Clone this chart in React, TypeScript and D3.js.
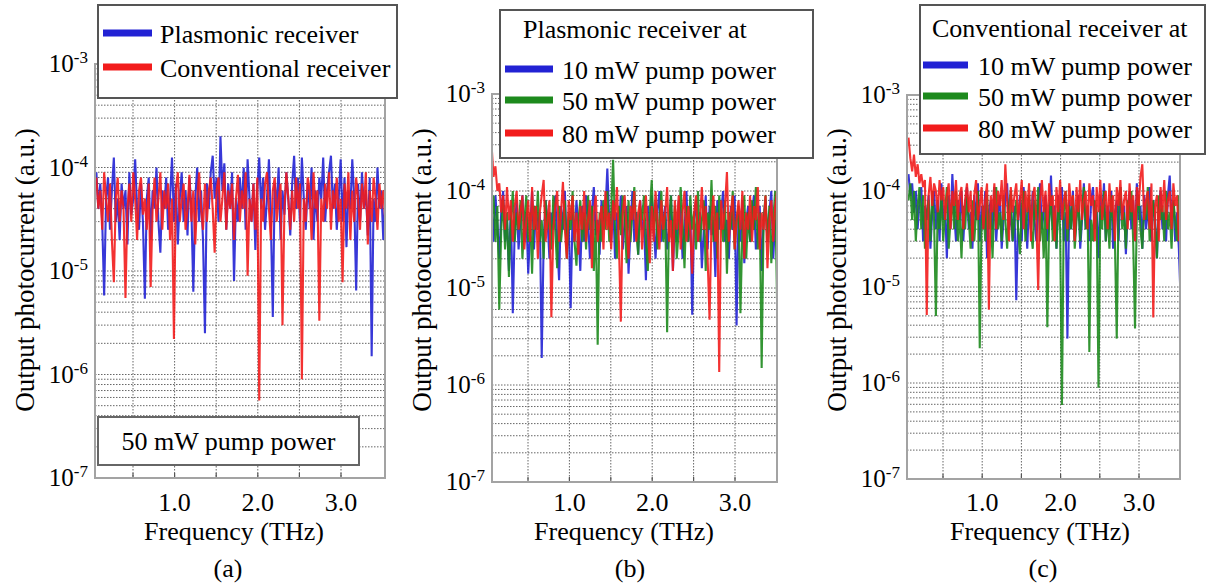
import React from 'react';
import * as d3 from 'd3';

// spectra sampled every freqStep THz starting at freqStart, values in units of 1e-5 a.u.
const freqStart = 0.06;
const freqStep = 0.0233;
const UNIT = 1e-5;

const xTickLabels = ['1.0', '2.0', '3.0'];
const xGridValues = [0.5, 1.0, 1.5, 2.0, 2.5, 3.0];
const yTickExponents = [-3, -4, -5, -6, -7];

// (a) 50 mW pump power
const plasmonicA = [
  9, 4, 7, 3, 0.58, 5, 8, 2.5, 6, 12.5, 3, 5, 2, 7, 4,
  6, 1.8, 9, 3.5, 5, 12, 4, 2.5, 7, 3, 0.54, 5, 8, 2, 6,
  4, 10, 3, 1.5, 6, 4, 8, 2.5, 5, 12.5, 3, 7, 1.8, 5, 9,
  3, 6, 2.2, 8, 4, 0.63, 5, 10, 3, 6, 2, 0.25, 7, 4, 9,
  13, 5, 8, 3, 20, 6, 11, 2.5, 7, 4, 9, 0.8, 5, 3, 8,
  4, 10, 2.5, 12, 5, 3, 7, 1.6, 6, 12.5, 4, 8, 2.5, 5, 12,
  3, 0.36, 7, 4, 10, 2, 6, 3.5, 9, 5, 2.2, 7, 13, 4, 8,
  3, 12.5, 5, 2.5, 7, 4, 10, 2, 6, 3, 8, 5, 12.5, 3, 6,
  9, 13, 4, 7, 2.5, 5, 12, 3, 8, 1.7, 6, 4, 12, 5, 0.65,
  7, 3, 9, 4, 6, 2.2, 8, 0.15, 5, 3, 10, 4, 6, 2, 5,
];
const conventionalA = [
  8, 4, 6, 2.5, 9, 5, 3, 7, 2, 0.78, 5, 8, 3, 6, 4,
  0.55, 4, 7, 3, 9, 5, 2, 6, 8, 3.5, 5, 2.5, 7, 0.7, 4,
  8, 3, 5, 9, 2.5, 6, 4, 7, 2, 5, 0.22, 6, 9, 3, 5,
  7, 2.5, 4, 8.5, 3, 6, 1.8, 5, 9, 4, 2.5, 7, 3, 6, 8,
  4, 1.5, 6, 8, 3, 5, 9, 2.5, 6, 4, 7, 2, 5, 8.5, 3,
  6, 4, 9, 0.9, 5, 3, 7, 2.5, 8, 0.056, 5, 3, 7, 9, 4,
  2, 6, 8, 3, 5, 7, 0.3, 4, 9, 5, 2.5, 6, 3, 8, 4,
  7, 0.09, 5, 3, 8, 6, 2, 9, 4, 6, 0.33, 5, 3, 7, 4,
  9, 2.5, 6, 4, 8, 3, 5, 0.78, 7, 4, 9, 2, 6, 3, 8,
  5, 2.5, 7, 4, 9, 1.8, 6, 3, 8, 5, 2.5, 7, 4, 6, 3,
];

// (b) plasmonic receiver
const plasmonic10 = [
  7, 3, 9, 4.5, 2, 6, 10, 3, 5, 1.5, 7, 0.55, 4, 8, 2.5,
  5, 9, 3, 6, 1.4, 4, 10, 2.5, 7, 4, 6, 0.19, 3, 8, 5,
  2, 6, 4, 9, 3, 1.2, 7, 4, 10, 2.5, 5, 0.62, 6, 3, 8,
  4, 1.5, 7, 3, 9, 5, 2, 6, 11, 3.5, 5, 2.2, 8, 4, 6,
  17, 5, 3, 8, 2, 6, 4, 9, 2.5, 5, 7, 1.4, 4, 10, 3,
  6, 2.2, 8, 4, 5, 1.2, 7, 3, 9, 4.5, 2, 6, 10, 3, 5,
  7, 2.5, 4, 9, 1.5, 5, 3, 8, 6, 2, 4, 10, 3, 7, 0.53,
  5, 8, 3, 6, 1.6, 4, 9, 2.5, 7, 3.5, 5, 1.3, 8, 4, 6,
  10, 3, 5, 2, 7, 4, 9, 0.41, 6, 3, 8, 1.8, 5, 7, 3,
  6, 9, 2.5, 4, 7, 1.5, 5, 8, 3, 6, 10, 2, 5, 4, 7,
];
const plasmonic50 = [
  5, 9, 3, 7, 0.6, 4, 8, 2.5, 6, 1.3, 5, 10, 3, 6, 4,
  8, 2, 5, 9, 3, 6, 1.4, 7, 4, 10, 3, 5, 2, 8, 4,
  6, 2.5, 9, 4, 1.6, 7, 3, 5, 8, 2, 6, 4, 10, 3, 1.7,
  5, 8, 3, 6, 2.5, 9, 4, 7, 1.5, 5, 0.26, 6, 3, 8, 4,
  10, 3, 6, 21, 4, 2, 7, 3.5, 9, 5, 1.8, 8, 3, 6, 11,
  4, 2.2, 7, 5, 9, 3, 1.5, 6, 13, 4, 8, 2.5, 5, 10, 3,
  6, 0.35, 5, 9, 3, 7, 2, 4, 11, 5, 1.6, 7, 3, 9, 4,
  6, 2.5, 10, 3, 5, 8, 1.5, 6, 4, 13, 3, 7, 2, 9, 5,
  3, 8, 1.4, 6, 4, 10, 2.5, 5, 7, 0.55, 4, 9, 2, 6, 3,
  8, 4, 11, 2.5, 6, 0.15, 5, 9, 3, 7, 1.8, 5, 10, 0.7, 6,
];
const plasmonic80 = [
  30, 14, 18, 10, 12, 6, 9, 4, 11, 5, 8, 3, 7, 10, 4,
  6, 9, 2.5, 5, 8, 3, 11, 4, 7, 2, 6, 9, 13, 3, 5,
  8, 0.5, 4, 7, 10, 3, 6, 12.4, 4, 2, 8, 5, 9, 3, 6,
  2.2, 7, 4, 10, 3, 5, 8, 1.6, 6, 9, 3, 5, 7, 2.5, 10,
  4, 6, 2.5, 8, 5, 11, 3, 0.45, 6, 9, 4, 2, 7, 5, 10,
  3, 6, 8, 2.5, 5, 9, 4, 1.8, 7, 3, 10, 5, 2.5, 8, 4,
  6, 11, 3, 5, 1.5, 8, 4, 9, 2.5, 6, 10, 3, 7, 4, 1.4,
  6, 9, 3, 5, 11, 4, 7, 2, 0.47, 5, 9, 3, 6, 0.136, 8,
  4, 7, 15.7, 3, 6, 9, 2.5, 5, 8, 4, 10, 2, 6, 4, 9,
  3, 7, 5, 11, 2.5, 6, 4, 9, 1.6, 5, 8, 3, 7, 10, 4,
];

// (c) conventional receiver
const conventional10 = [
  15, 9, 12, 6, 10, 4, 8, 11, 3, 7, 5, 9, 2.5, 6, 10,
  4, 8, 3, 12, 5, 7, 2, 9, 4, 15, 6, 3, 8, 5, 10,
  3, 7, 11, 4, 6, 2.5, 9, 5, 12, 3, 7, 4, 10, 2, 6,
  8, 4, 11, 3, 6, 9, 2.5, 5, 8, 12, 4, 6, 3, 7, 0.73,
  5, 9, 3, 11, 6, 2.5, 8, 4, 10, 5, 3, 7, 12, 4, 6,
  9, 3, 5, 14.5, 4, 7, 2.5, 9, 5, 11, 3, 6, 0.29, 8, 4,
  10, 3, 6, 9, 2.5, 5, 12, 4, 7, 3, 8, 11, 4, 6, 2,
  9, 5, 12, 3, 7, 4, 10, 2.5, 6, 8, 3, 11, 5, 7, 2.2,
  6, 10, 4, 8, 3, 12, 5, 7, 2.5, 9, 4, 6, 11, 3, 8,
  5, 2, 7, 10, 4, 6, 3, 9, 14.5, 5, 8, 3, 6, 2.5, 0.7,
];
const conventional50 = [
  8, 12, 5, 10, 3, 7, 11, 4, 9, 2.5, 6, 8, 3, 10, 5,
  0.5, 7, 4, 9, 3, 6, 11, 2.5, 5, 8, 4, 10, 3, 6, 2,
  7, 4, 9, 5, 2.5, 8, 3, 6, 10, 0.23, 5, 7, 3, 9, 4,
  6, 2, 8, 11, 4, 6, 3, 9, 5, 2.5, 7, 10, 3, 5, 8,
  4, 2.2, 7, 10, 3, 6, 9, 4, 2.5, 8, 5, 11, 3, 6, 2,
  7, 0.38, 5, 9, 3, 6, 2.5, 8, 4, 0.059, 6, 10, 3, 7, 4,
  9, 2.5, 5, 8, 3, 6, 11, 4, 7, 0.21, 5, 3, 8, 6, 0.089,
  7, 4, 10, 3, 6, 2.5, 9, 5, 3, 0.29, 7, 11, 4, 6, 2.5,
  8, 5, 10, 3, 0.37, 6, 9, 4, 2.5, 7, 5, 11, 3, 6, 8,
  4, 2, 9, 5, 7, 3, 10, 4, 6, 2.5, 8, 5, 3, 9, 4,
];
const conventional80 = [
  36, 22, 16, 24, 14, 19, 12, 15, 11, 13, 0.51, 9, 14, 7, 12,
  10, 6, 13, 8, 11, 5, 9, 12, 4, 10, 7, 13, 5, 9, 11,
  4, 8, 12, 6, 10, 3, 9, 13, 5, 7, 11, 4, 8, 12, 0.58,
  9, 6, 12, 4, 10, 7, 13, 5, 19, 8, 3, 11, 6, 9, 12,
  5, 8, 13, 4, 10, 6, 12, 3, 9, 11, 5, 0.93, 8, 13, 6,
  10, 4, 12, 7, 9, 3, 11, 6, 13, 5, 8, 10, 4, 12, 7,
  9, 3, 11, 6, 13, 5, 8, 10, 4, 12, 7, 9, 3, 11, 6,
  13, 5, 8, 10, 4, 12, 6, 9, 3, 11, 7, 13, 5, 8, 10,
  4, 12, 6, 9, 3, 11, 7, 14, 19, 5, 8, 10, 4, 12, 0.48,
  7, 9, 3, 11, 6, 13, 5, 8, 10, 4, 12, 7, 9, 3, 6,
];

const BLUE = '#2222d4';
const RED = '#f21c1c';
const GREEN = '#1d8a1d';
const FONT = '"Liberation Serif", "Times New Roman", serif';

type Series = { label: string; color: string; values: number[] };

type PanelSpec = {
  x05: number; x30: number; left: number; right: number; top: number; bottom: number;
  series: Series[];
  legendBox: [number, number, number, number];
  legendTitle?: { text: string; x: number; y: number };
  legendRows: number[];
  legendLineX: [number, number];
  legendTextX: number;
  note?: { text: string; box: [number, number, number, number] };
  xTitleX: number;
  caption: string;
  captionX: number;
};

const panels: PanelSpec[] = [
  {
    x05: 133, x30: 341, left: 95, right: 385, top: 64, bottom: 478,
    series: [
      { label: 'Plasmonic receiver', color: BLUE, values: plasmonicA },
      { label: 'Conventional receiver', color: RED, values: conventionalA },
    ],
    legendBox: [98, 5, 299, 93],
    legendRows: [33, 67],
    legendLineX: [103, 152],
    legendTextX: 160,
    note: { text: '50 mW pump power', box: [98, 417, 261, 48] },
    xTitleX: 234,
    caption: '(a)',
    captionX: 228,
  },
  {
    x05: 528, x30: 735, left: 492, right: 777, top: 94, bottom: 482,
    series: [
      { label: '10 mW pump power', color: BLUE, values: plasmonic10 },
      { label: '50 mW pump power', color: GREEN, values: plasmonic50 },
      { label: '80 mW pump power', color: RED, values: plasmonic80 },
    ],
    legendBox: [500, 10, 313, 148],
    legendTitle: { text: 'Plasmonic receiver at', x: 523, y: 38 },
    legendRows: [69, 100, 133],
    legendLineX: [505, 553],
    legendTextX: 562,
    xTitleX: 624,
    caption: '(b)',
    captionX: 630,
  },
  {
    x05: 943, x30: 1139, left: 907, right: 1180, top: 95, bottom: 479,
    series: [
      { label: '10 mW pump power', color: BLUE, values: conventional10 },
      { label: '50 mW pump power', color: GREEN, values: conventional50 },
      { label: '80 mW pump power', color: RED, values: conventional80 },
    ],
    legendBox: [920, 5, 285, 149],
    legendTitle: { text: 'Conventional receiver at', x: 932, y: 37 },
    legendRows: [65, 96, 128],
    legendLineX: [923, 968],
    legendTextX: 978,
    xTitleX: 1040,
    caption: '(c)',
    captionX: 1043,
  },
];

function Panel({ spec, id }: { spec: PanelSpec; id: number }) {
  const x = d3.scaleLinear().domain([0.5, 3.0]).range([spec.x05, spec.x30]);
  const y = d3.scaleLog().domain([1e-7, 1e-3]).range([spec.bottom, spec.top]);

  const gridY: number[] = [];
  for (let e = -7; e < -3; e++) {
    for (let k = 1; k < 10; k++) gridY.push(k * Math.pow(10, e));
  }
  gridY.push(1e-3);

  const line = d3
    .line<number>()
    .x((_, i) => x(freqStart + i * freqStep))
    .y((v) => y(v * UNIT));

  const clipId = `clip-${id}`;
  const w = spec.right - spec.left;
  const h = spec.bottom - spec.top;

  return (
    <g>
      <defs>
        <clipPath id={clipId}>
          <rect x={spec.left} y={spec.top} width={w} height={h} />
        </clipPath>
      </defs>
      <rect x={spec.left} y={spec.top} width={w} height={h} fill="#fff" />

      {/* grid */}
      {gridY.map((v, i) => (
        <line key={'gy' + i} x1={spec.left} x2={spec.right} y1={y(v)} y2={y(v)}
          stroke="#666" strokeWidth={1} strokeDasharray="1.5,1.5" />
      ))}
      {xGridValues.map((v, i) => (
        <line key={'gx' + i} x1={x(v)} x2={x(v)} y1={spec.top} y2={spec.bottom}
          stroke="#666" strokeWidth={1} strokeDasharray="1.5,1.5" />
      ))}
      {xGridValues.map((v, i) => (
        <line key={'tk' + i} x1={x(v)} x2={x(v)} y1={spec.bottom - 5} y2={spec.bottom}
          stroke="#555" strokeWidth={1.2} />
      ))}

      {/* spectra */}
      <g clipPath={`url(#${clipId})`}>
        {spec.series.map((s, i) => (
          <path key={'s' + i} d={line(s.values) || ''} fill="none" stroke={s.color}
            strokeWidth={2.1} strokeOpacity={0.9} />
        ))}
      </g>

      <rect x={spec.left} y={spec.top} width={w} height={h} fill="none" stroke="#a3a3a3" strokeWidth={2} />

      {/* y tick labels */}
      {yTickExponents.map((e) => (
        <text key={'yt' + e} x={spec.left - 7} y={y(Math.pow(10, e)) + 8} textAnchor="end"
          fontFamily={FONT} fontSize={25} fill="#000">
          10<tspan dy={-9} fontSize={17}>{`-${-e}`}</tspan>
        </text>
      ))}

      {/* x tick labels */}
      {xTickLabels.map((t) => (
        <text key={'xt' + t} x={x(+t)} y={511} textAnchor="middle" fontFamily={FONT} fontSize={26} fill="#000">
          {t}
        </text>
      ))}

      <text x={spec.xTitleX} y={540} textAnchor="middle" fontFamily={FONT} fontSize={26} fill="#000">
        Frequency (THz)
      </text>
      <text transform={`translate(${spec.left - 61},270) rotate(-90)`} textAnchor="middle"
        fontFamily={FONT} fontSize={27} fill="#000">
        Output photocurrent (a.u.)
      </text>
      <text x={spec.captionX} y={577} textAnchor="middle" fontFamily={FONT} fontSize={26} fill="#000">
        {spec.caption}
      </text>

      {/* legend */}
      <rect x={spec.legendBox[0]} y={spec.legendBox[1]} width={spec.legendBox[2]} height={spec.legendBox[3]}
        fill="#fff" stroke="#555" strokeWidth={2} />
      {spec.legendTitle && (
        <text x={spec.legendTitle.x} y={spec.legendTitle.y} fontFamily={FONT} fontSize={26} fill="#000">
          {spec.legendTitle.text}
        </text>
      )}
      {spec.series.map((s, i) => (
        <g key={'lg' + i}>
          <line x1={spec.legendLineX[0]} x2={spec.legendLineX[1]} y1={spec.legendRows[i]} y2={spec.legendRows[i]}
            stroke={s.color} strokeWidth={7} />
          <text x={spec.legendTextX} y={spec.legendRows[i] + 10} fontFamily={FONT} fontSize={26} fill="#000">
            {s.label}
          </text>
        </g>
      ))}

      {spec.note && (
        <g>
          <rect x={spec.note.box[0]} y={spec.note.box[1]} width={spec.note.box[2]} height={spec.note.box[3]}
            fill="#fff" stroke="#666" strokeWidth={2} />
          <text x={spec.note.box[0] + spec.note.box[2] / 2} y={spec.note.box[1] + 33} textAnchor="middle"
            fontFamily={FONT} fontSize={26} fill="#000">
            {spec.note.text}
          </text>
        </g>
      )}
    </g>
  );
}

export default function App() {
  return (
    <svg width={1210} height={587} style={{ position: 'absolute', left: 0, top: 0, background: '#fff' }}>
      <rect width={1210} height={587} fill="#fff" />
      {panels.map((p, i) => (
        <Panel key={i} spec={p} id={i} />
      ))}
    </svg>
  );
}
